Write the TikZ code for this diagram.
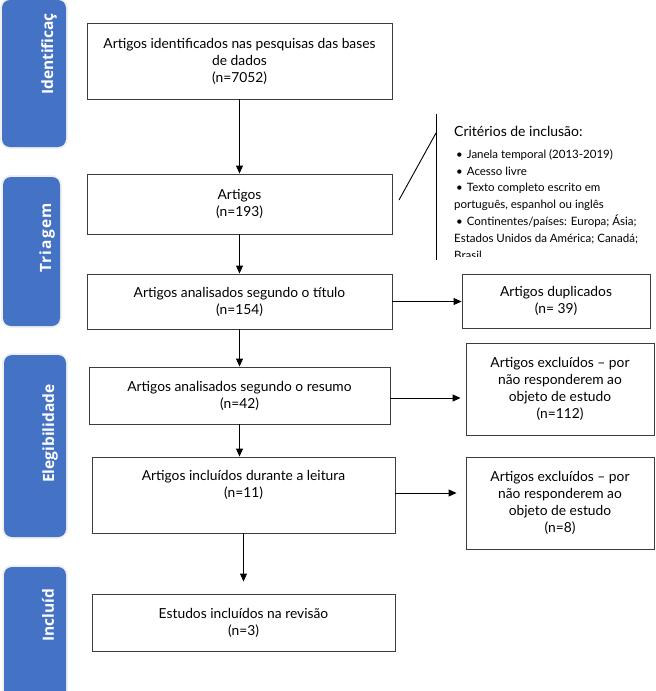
\documentclass[tikz,border=0pt]{standalone}
\usepackage{fontspec}
\setmainfont{Lato}
\newfontfamily\tabfont{Open Sans}
\usetikzlibrary{arrows.meta}

\definecolor{tabblue}{RGB}{68,114,196}
\definecolor{boxline}{RGB}{60,60,60}

\begin{document}
\begin{tikzpicture}[x=1pt,y=-1pt,
		box/.style={draw=boxline, line width=0.9pt, align=center, inner sep=0pt, font=\fontsize{13.8}{17}\selectfont},
		tab/.style={fill=tabblue, rounded corners=8pt, preaction={draw=black!6, line width=4pt}, inner sep=0pt},
		tabtext/.style={rotate=90, anchor=west, inner sep=0pt, text=white, font=\tabfont\bfseries\fontsize{15.5}{17}\selectfont},
		flow/.style={-{Triangle[length=8pt,width=7pt]}, line width=0.9pt}]
		\clip (0,0) rectangle (656,691);
		
		% stage tabs
		\node[tab, minimum width=64pt, minimum height=147pt] (tabid) at (34,73.5) {};
		\node[tab, minimum width=57pt, minimum height=149pt] (tabtri) at (31.5,251.5) {};
		\node[tab, minimum width=62pt, minimum height=182pt] (tabele) at (35,446) {};
		\node[tab, minimum width=62pt, minimum height=143pt] (tabinc) at (35,638.5) {};
		\node[tabtext] (tabidtext) at (49,95) {Identificaç};
		\node[tabtext] (tabtritext) at (47,273) {\addfontfeature{LetterSpace=8}Triagem};
		\node[tabtext] (tabeletext) at (50,483) {Elegibilidade};
		\node[tabtext] (tabinctext) at (48,642) {Incluíd};
		
		% main column
		\node[box, minimum width=305pt, minimum height=76pt] (ident) at (239.5,61) {Artigos identificados nas pesquisas das bases\\de dados\\(n=7052)};
		\node[box, minimum width=305pt, minimum height=60pt] (artigos) at (239.5,204) {Artigos\\(n=193)};
		\node[box, minimum width=305pt, minimum height=55pt] (titulo) at (239.5,301.5) {Artigos analisados segundo o título\\(n=154)};
		\node[box, minimum width=301pt, minimum height=57pt] (resumo) at (239.5,395.5) {Artigos analisados segundo o resumo\\(n=42)};
		\node[box, minimum width=303pt, minimum height=76pt] (leitura) at (243.5,495) {Artigos incluídos durante a leitura\\(n=11)\\\strut};
		\node[box, minimum width=303pt, minimum height=57pt] (revisao) at (243.5,622.5) {Estudos incluídos na revisão\\(n=3)};
		
		% exclusions
		\node[box, minimum width=188pt, minimum height=54pt] (dup) at (556,301) {Artigos duplicados\\(n= 39)};
		\node[box, minimum width=188pt, minimum height=92pt] (exclres) at (560,389) {Artigos excluídos – por\\não responderem ao\\objeto de estudo\\(n=112)};
		\node[box, minimum width=188pt, minimum height=92pt] (excllei) at (560,503) {Artigos excluídos – por\\não responderem ao\\objeto de estudo\\(n=8)};
		
		\draw[flow] (ident) -- (artigos);
		\draw[flow] (artigos) -- (titulo);
		\draw[flow] (titulo) -- (resumo);
		\draw[flow] (resumo.south) -- (resumo.south |- leitura.north);
		\draw[flow] (leitura.south) -- ([yshift=12pt]revisao.north);
		\draw[flow] (titulo.east) -- (titulo.east -| dup.west);
		\draw[flow, shorten >=5pt] ([yshift=-2.5pt]resumo.east) -- ([yshift=-2.5pt]resumo.east -| exclres.west);
		\draw[flow, shorten >=9pt] ([yshift=2pt]leitura.east) -- ([yshift=2pt]leitura.east -| excllei.west);
		
		% inclusion criteria
		\coordinate (brtop) at (436,114);
		\coordinate (brbot) at (436,260);
		\coordinate (brjoin) at (436,133);
		\coordinate (brfoot) at (399,200);
		\draw[line width=0.9pt] (brtop) -- (brbot);
		\draw[line width=0.9pt] (brfoot) -- (brjoin);
		\begin{scope}
			\clip (436,100) rectangle (656,256);
			\node[anchor=north west, align=left, inner sep=0pt, font=\fontsize{11.5}{16.8}\selectfont] (crit) at (454,126) {{\fontsize{14}{16}\selectfont Critérios de inclusão:}\\[5pt]
				\hspace{2pt}\textbullet\hspace{4pt}Janela temporal (2013-2019)\\
				\hspace{2pt}\textbullet\hspace{4pt}Acesso livre\\
				\hspace{2pt}\textbullet\hspace{4pt}Texto completo escrito em\\
				português, espanhol ou inglês\\
				\hspace{2pt}\textbullet\hspace{4pt}Continentes/países: Europa; Ásia;\\
				Estados Unidos da América; Canadá;\\
				Brasil};
		\end{scope}
	\end{tikzpicture}
\end{document}
